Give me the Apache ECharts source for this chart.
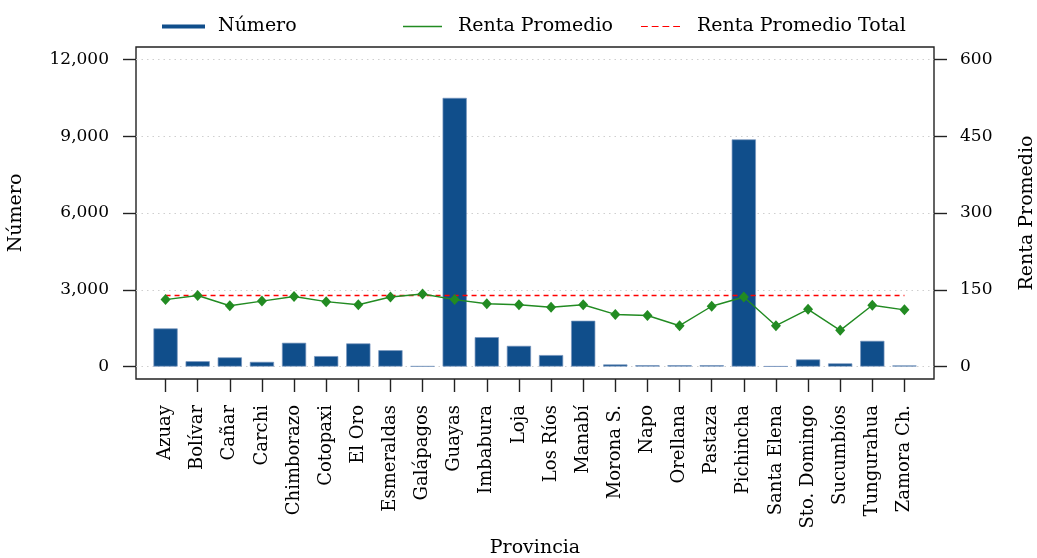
<!DOCTYPE html>
<html>
<head>
<meta charset="utf-8">
<script src="https://cdn.jsdelivr.net/npm/echarts@6/dist/echarts.min.js"></script>
<style>
html,body{margin:0;padding:0;background:#fff;}
#c{width:1037px;height:558px;}
</style>
</head>
<body>
<div id="c"></div>
<script>
const categories = ['Azuay','Bolívar','Cañar','Carchi','Chimborazo','Cotopaxi','El Oro','Esmeraldas','Galápagos','Guayas','Imbabura','Loja','Los Ríos','Manabí','Morona S.','Napo','Orellana','Pastaza','Pichincha','Santa Elena','Sto. Domingo','Sucumbíos','Tungurahua','Zamora Ch.'];
const numero = [1500,220,370,195,940,420,915,650,25,10500,1160,820,460,1800,95,65,65,65,8880,20,290,135,1015,55];
const rentaPromedio = [131,139,119,128,137,127,121,136,142,131,123,121,116,121,102,100,80,118,136,80,112,71,120,111];
const rentaPromedioTotal = 139;
const leftTicks = [0,3000,6000,9000,12000];
const rightTicks = [0,150,300,450,600];

const FONT = 'DejaVu Serif';
const BLUE = '#104E8B', GREEN = '#228B22', RED = '#FF0000';
const idx = categories.map((_, i) => i);
const pad = 0.04;
const xMin = -pad * (categories.length - 1), xMax = (categories.length - 1) * (1 + pad);

const chart = echarts.init(document.getElementById('c'));
chart.setOption({
  animation: false,
  backgroundColor: '#fff',
  textStyle: { fontFamily: FONT, color: '#000' },
  grid: { left: 136, right: 103, top: 47, bottom: 179, show: true, borderColor: '#222', borderWidth: 1.4,
    backgroundColor: 'transparent', containLabel: false, outerBoundsMode: 'none' },
  legend: [
    { data: [{ name: 'Número', icon: 'rect' }], left: 157, top: 12, itemWidth: 43, itemHeight: 4, itemGap: 0,
      itemStyle: { borderWidth: 0 },
      textStyle: { fontFamily: FONT, fontSize: 19, color: '#000', padding: [0, 0, 0, 8] } },
    { data: [{ name: 'Renta Promedio', icon: 'rect' }], left: 398, top: 12, itemWidth: 39, itemHeight: 1.3, itemGap: 0,
      itemStyle: { borderWidth: 0 },
      textStyle: { fontFamily: FONT, fontSize: 19, color: '#000', padding: [0, 0, 0, 11] } },
    { data: [{ name: 'Renta Promedio Total', icon: 'path://M0,0H7V1H0Z M11,0H18V1H11Z M22,0H29V1H22Z M33,0H40V1H33Z' }], left: 636, top: 12, itemWidth: 39, itemHeight: 1.3, itemGap: 0,
      itemStyle: { borderWidth: 0 },
      textStyle: { fontFamily: FONT, fontSize: 19, color: '#000', padding: [0, 0, 0, 12] } }
  ],
  xAxis: {
    type: 'value', min: xMin, max: xMax,
    name: 'Provincia', nameLocation: 'middle', nameGap: 160,
    nameTextStyle: { fontFamily: FONT, fontSize: 19, color: '#000' },
    axisLine: { show: false, onZero: false },
    splitLine: { show: false },
    axisTick: { show: true, length: 13, customValues: idx, lineStyle: { color: '#222', width: 1.4 } },
    axisLabel: { customValues: idx, rotate: 90, margin: 26, fontFamily: FONT, fontSize: 18, color: '#000',
      formatter: v => categories[Math.round(v)] }
  },
  yAxis: [
    {
      type: 'value', min: -0.04 * 12000, max: 12000 * 1.04,
      name: 'Número', nameLocation: 'middle', nameGap: 110, nameRotate: 90,
      nameTextStyle: { fontFamily: FONT, fontSize: 19, color: '#000' },
      axisLine: { show: false, onZero: false },
      axisTick: { show: true, length: 13, customValues: leftTicks, lineStyle: { color: '#222', width: 1.4 } },
      axisLabel: { customValues: leftTicks, margin: 27, fontFamily: FONT, fontSize: 17, color: '#000',
        formatter: v => v.toLocaleString('en-US') },
      splitLine: { show: true, lineStyle: { color: '#cfcfcf', type: [1.5, 4], width: 1 } }
    },
    {
      type: 'value', min: -0.04 * 600, max: 600 * 1.04, position: 'right',
      name: 'Renta Promedio', nameLocation: 'middle', nameGap: 84, nameRotate: 90,
      nameTextStyle: { fontFamily: FONT, fontSize: 19, color: '#000' },
      axisLine: { show: false, onZero: false },
      axisTick: { show: true, length: 13, customValues: rightTicks, lineStyle: { color: '#222', width: 1.4 } },
      axisLabel: { customValues: rightTicks, margin: 26, fontFamily: FONT, fontSize: 17, color: '#000' },
      splitLine: { show: false }
    }
  ],
  series: [
    {
      name: 'Número', type: 'bar', yAxisIndex: 0, barWidth: 24.5,
      itemStyle: { color: BLUE, borderColor: 'rgba(120,150,190,0.7)', borderWidth: 1 },
      data: numero.map((v, i) => [i, v])
    },
    {
      name: 'Renta Promedio Total', type: 'line', yAxisIndex: 1, symbol: 'none', z: 3,
      lineStyle: { color: RED, width: 1.4, type: [5, 4] }, itemStyle: { color: RED },
      data: idx.map(i => [i, rentaPromedioTotal])
    },
    {
      name: 'Renta Promedio', type: 'line', yAxisIndex: 1, symbol: 'diamond', symbolSize: [10, 11], z: 4,
      lineStyle: { color: GREEN, width: 1.4 }, itemStyle: { color: GREEN },
      data: rentaPromedio.map((v, i) => [i, v])
    }
  ]
});
</script>
</body>
</html>
